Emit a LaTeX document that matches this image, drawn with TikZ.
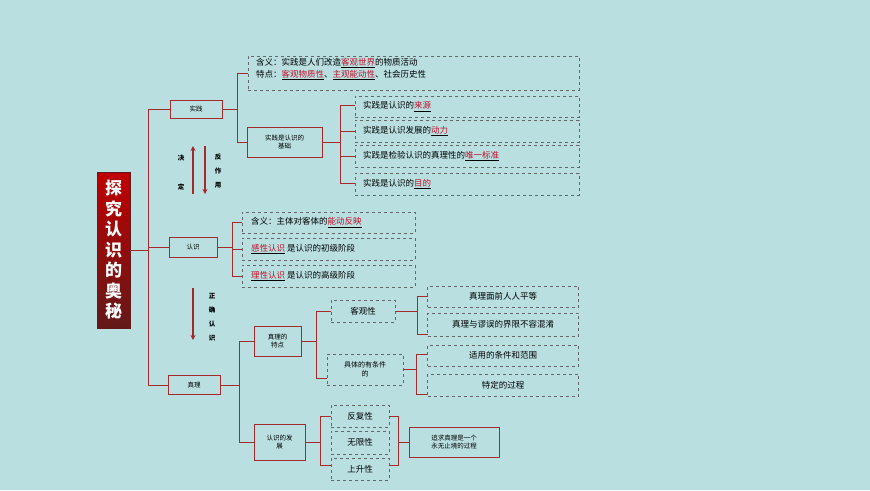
\documentclass[tikz,border=0pt]{standalone}
\usepackage{fontspec}
\setmainfont{Noto Sans CJK SC}
\usetikzlibrary{arrows.meta}
\definecolor{bg}{HTML}{BADFE0}
\definecolor{ln}{HTML}{A52A2A}
\definecolor{kw}{HTML}{C0102A}
\newcommand{\kwd}[1]{\underline{\textcolor{kw}{#1}}}
\tikzset{
 sbox/.style={draw=ln,line width=0.8pt,fill=none,inner sep=1pt,align=center,font=\fontsize{6.5}{8}\selectfont},
 dbox/.style={draw=gray!80!black,dashed,line width=0.6pt,inner sep=2pt,anchor=north west,font=\fontsize{8.5}{10}\selectfont},
 br/.style={draw=ln,line width=0.9pt},
 lbl/.style={font=\bfseries\fontsize{6.5}{14}\selectfont},
 arr/.style={draw=ln,line width=1.3pt,-{Stealth[length=5pt,width=5pt]}}
}
\newcommand{\dbx}[6]{\node[dbox,minimum width=#4-#2,minimum height=#5-#3,#6] (#1) at (#2,#3) {};}
\begin{document}
\begin{tikzpicture}[x=1pt,y=-1pt]
\fill[bg] (0,0) rectangle (870,490);
\useasboundingbox (0,0) rectangle (870,490);
% title
\node[draw=ln!60!black,top color=red!75!black,bottom color=ln!60!black,minimum width=33,minimum height=156,inner sep=0,text=white,font=\bfseries\fontsize{17}{20.5}\selectfont,align=center] (title) at (113.5,250) {探\\究\\认\\识\\的\\奥\\秘};
\coordinate (m1) at (148,109);
\coordinate (m3) at (148,385);
\draw[br] (title.east) -- (148,250);
% level1
\node[sbox,minimum width=52,minimum height=18] (sj) at (196,109) {实践};
\node[sbox,minimum width=48,minimum height=20] (rs) at (193,247) {认识};
\node[sbox,minimum width=52,minimum height=19] (zl) at (194,385) {真理};
\draw[br] (sj.west) -- (m1) -- (m3) -- (zl.west);
\draw[br] (148,247) -- (rs.west);
% shijian branch
\dbx{d1}{248}{56}{579}{90}{}
\node[anchor=north west,inner sep=0,font=\fontsize{8.5}{12}\selectfont,align=left] (d1t) at (256,58) {含义：实践是人们改造\kwd{客观世界}的物质活动\\特点：\kwd{客观物质性}、\kwd{主观能动性}、社会历史性};
\node[sbox,minimum width=75,minimum height=30] (jich) at (284.5,142) {实践是认识的\\基础};
\draw[br] (sj.east) -- (237,109);
\draw[br] (248,73) -- (237,73) -- (237,142) -- (jich.west);
\foreach \n/\a/\b/\t in {a/96/117/{实践是认识的\kwd{来源}},b/120/142/{实践是认识发展的\kwd{动力}},c/145/167/{实践是检验认识的真理性的\kwd{唯一标准}},d/173/195/{实践是认识的\kwd{目的}}}{
 \node[dbox,minimum width=224,minimum height=\b-\a] (jb\n) at (355,\a) {};
 \node[anchor=west,inner sep=0,font=\fontsize{8.5}{10}\selectfont] (jbt\n) at (363,{(\a+\b)/2}) {\t};
}
\draw[br] (jich.east) -- (340,142);
\draw[br] (355,105) -- (340,105) -- (340,183) -- (355,183);
\draw[br] (340,131) -- (355,131);
\draw[br] (340,156) -- (355,156);
% arrows
\coordinate (au1) at (193,194); \coordinate (au2) at (193,146);
\coordinate (ad1) at (205,146); \coordinate (ad2) at (205,194);
\draw[arr] (au1) -- (au2);
\draw[arr] (ad1) -- (ad2);
\node[lbl] (l1) at (181,158) {决};
\node[lbl] (l2) at (181,187) {定};
\node[lbl,align=center] (l3) at (218,171) {反\\作\\用};
\coordinate (ae1) at (193,288); \coordinate (ae2) at (193,340);
\draw[arr] (ae1) -- (ae2);
\node[lbl,align=center] (l4) at (212,317) {正\\确\\认\\识};
% renshi branch
\foreach \n/\a/\b/\t in {a/212/233/{含义：主体对客体的\kwd{能动反映}},b/238/260/{\kwd{感性认识} 是认识的初级阶段},c/265/287/{\kwd{理性认识} 是认识的高级阶段}}{
 \node[dbox,minimum width=173,minimum height=\b-\a] (rb\n) at (242,\a) {};
 \node[anchor=west,inner sep=0,font=\fontsize{8.5}{10}\selectfont] (rbt\n) at (251,{(\a+\b)/2}) {\t};
}
\draw[br] (rs.east) -- (232,247);
\draw[br] (242,222) -- (232,222) -- (232,276) -- (242,276);
\draw[br] (232,249) -- (242,249);
% zhenli branch
\node[sbox,minimum width=47,minimum height=30] (td) at (277.5,341) {真理的\\特点};
\node[sbox,minimum width=51,minimum height=36] (fz) at (279.5,442) {认识的发\\展};
\draw[br] (zl.east) -- (239,385);
\draw[br] (td.west) -- (239,341) -- (239,442) -- (fz.west);
\node[dbox,minimum width=64,minimum height=22,font=\fontsize{8.5}{10}\selectfont,anchor=center] (kg) at (363,311) {客观性};
\node[dbox,minimum width=76,minimum height=31,font=\fontsize{7}{9}\selectfont,align=center,anchor=center] (jtx) at (365,369.5) {具体的有条件\\的};
\draw[br] (td.east) -- (316,341);
\draw[br] (kg.west) -- (316,311) -- (316,378) -- (327,378);
\foreach \n/\a/\b/\t in {a/286/307/{真理面前人人平等},b/313/336/{真理与谬误的界限不容混淆},c/345/366/{适用的条件和范围},d/374/396/{特定的过程}}{
 \node[dbox,minimum width=151,minimum height=\b-\a,font=\fontsize{8.5}{10}\selectfont,anchor=center] (zb\n) at (503,{(\a+\b)/2}) {\t};
}
\draw[br] (kg.east) -- (417,311);
\draw[br] (428,296) -- (417,296) -- (417,334) -- (428,334);
\draw[br] (jtx.east) -- (416,369.5);
\draw[br] (427,354) -- (416,354) -- (416,394) -- (427,394);
\foreach \n/\a/\b/\t in {a/405/427/反复性,b/431/454/无限性,c/458/480/上升性}{
 \node[dbox,minimum width=58,minimum height=\b-\a,font=\fontsize{8.5}{10}\selectfont,anchor=center] (fb\n) at (360,{(\a+\b)/2}) {\t};
}
\draw[br] (fz.east) -- (320,442);
\draw[br] (331,416) -- (320,416) -- (320,465) -- (331,465);
\node[sbox,minimum width=90,minimum height=30] (zq) at (454,442) {追求真理是一个\\永无止境的过程};
\draw[br] (389,416) -- (398,416) -- (398,465) -- (389,465);
\draw[br] (398,442) -- (zq.west);
\end{tikzpicture}
\end{document}
